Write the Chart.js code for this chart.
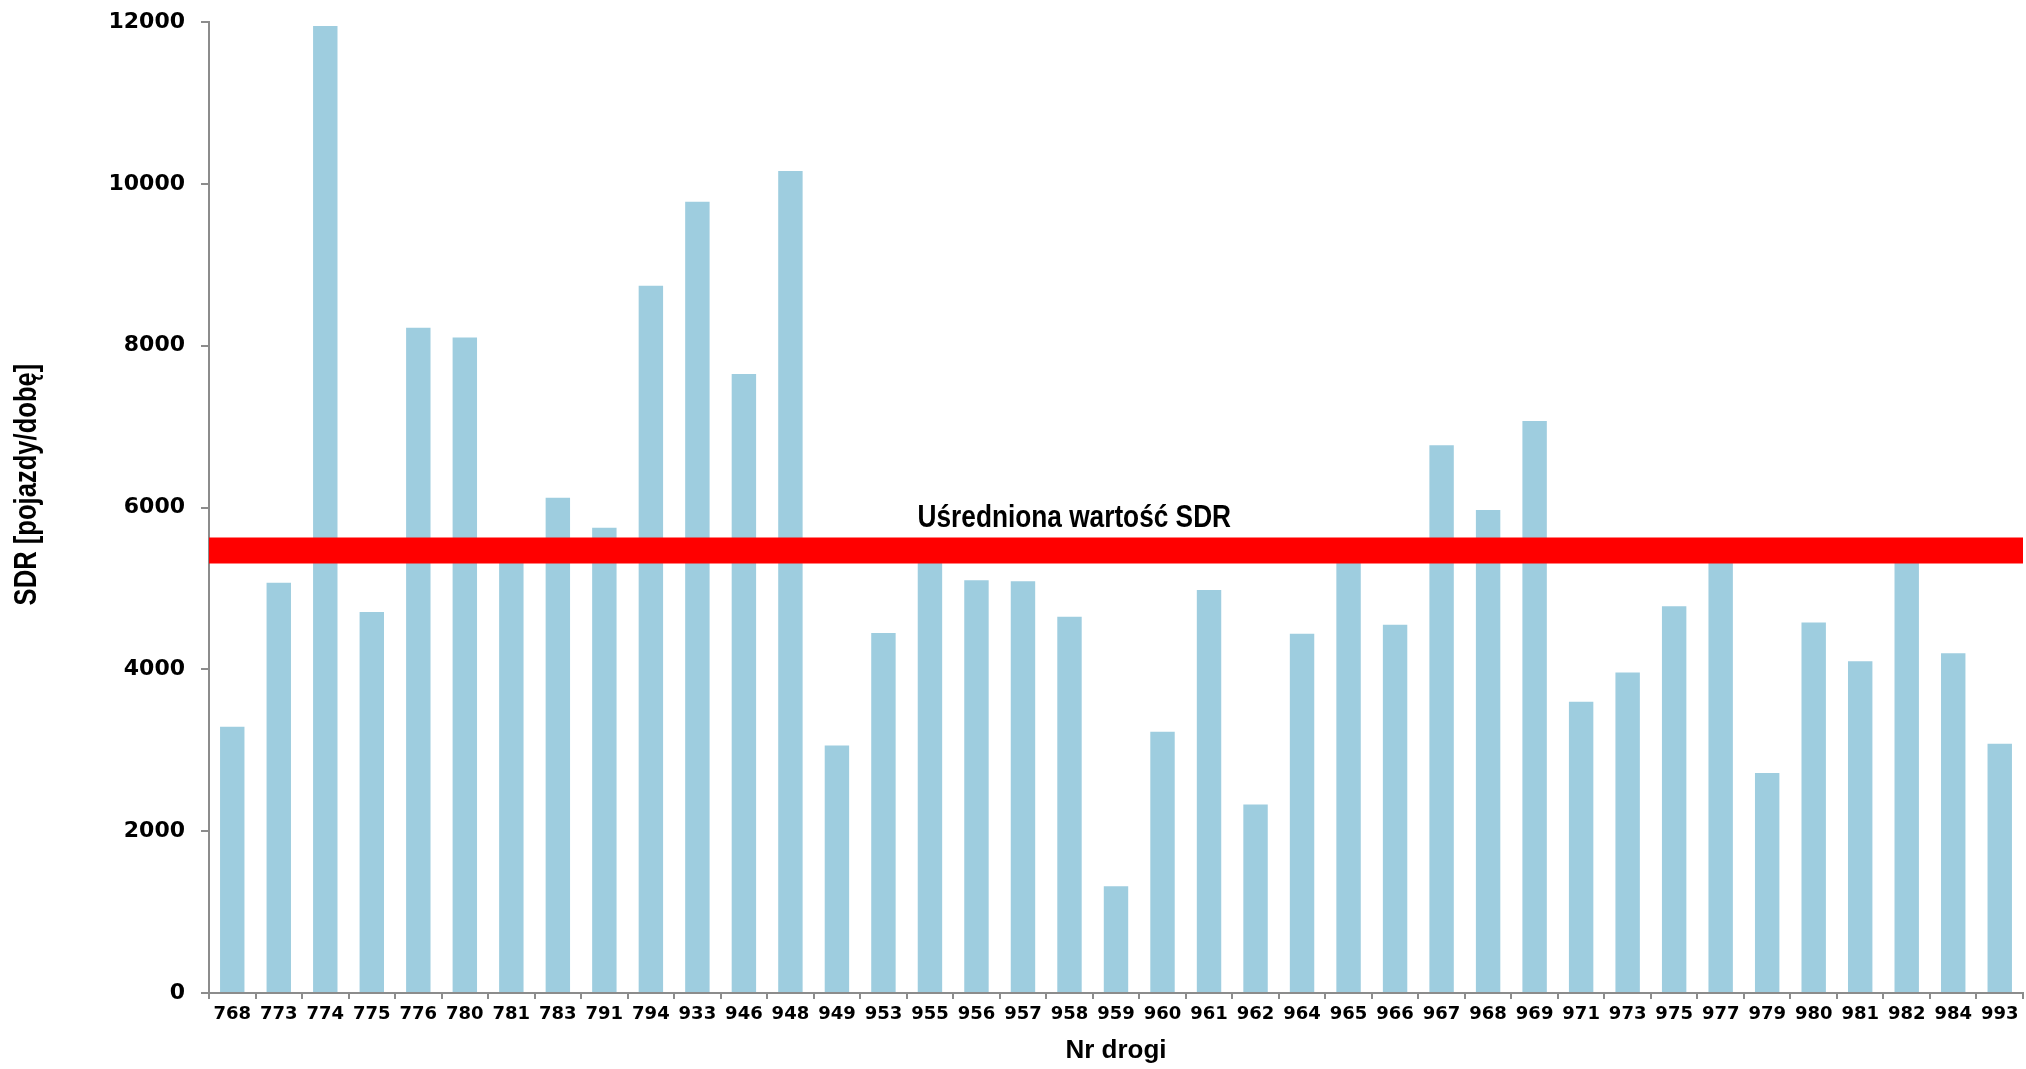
<!DOCTYPE html>
<html lang="pl">
<head>
<meta charset="utf-8">
<title>SDR</title>
<script src="https://cdn.jsdelivr.net/npm/chart.js@4.4.1/dist/chart.umd.min.js"></script>
<style>
  html, body { margin: 0; padding: 0; background: #fff; }
  canvas { display: block; }
</style>
</head>
<body>
<canvas id="wykres" width="2026" height="1069"></canvas>
<script>
const drogi = ['768', '773', '774', '775', '776', '780', '781', '783', '791', '794',
  '933', '946', '948', '949', '953', '955', '956', '957', '958', '959',
  '960', '961', '962', '964', '965', '966', '967', '968', '969', '971',
  '973', '975', '977', '979', '980', '981', '982', '984', '993'];

// slupki 781, 955, 965, 977, 982 koncza sie pod czerwonym pasem
const sdr = [3290, 5070, 11950, 4710, 8220, 8100, 5450, 6120, 5750, 8740,
  9780, 7650, 10160, 3060, 4450, 5500, 5100, 5090, 4650, 1320,
  3230, 4980, 2330, 4440, 5480, 4550, 6770, 5970, 7070, 3600,
  3960, 4780, 5420, 2720, 4580, 4100, 5520, 4200, 3080];

const sredniaSDR = 5470;
const etykietaSredniej = 'Uśredniona wartość SDR';
const tytulY = 'SDR [pojazdy/dobę]';
const tytulX = 'Nr drogi';

const szary = '#8c8c8c';

// brak fontu "Narrow" - zwezamy zwykly Liberation Sans
const napisy = {
  id: 'napisy',
  afterDatasetsDraw(chart) {
    const { ctx, chartArea, scales } = chart;
    const yPix = scales.y.getPixelForValue(sredniaSDR);
    ctx.save();
    ctx.fillStyle = '#000';
    ctx.font = 'bold 32px "Liberation Sans", Arial, sans-serif';
    ctx.textAlign = 'center';
    ctx.textBaseline = 'alphabetic';
    ctx.translate(chartArea.left + chartArea.width * 0.477, yPix - 23);
    ctx.scale(0.82, 1);
    ctx.fillText(etykietaSredniej, 0, 0);
    ctx.restore();

    // tytul osi Y
    ctx.save();
    ctx.fillStyle = '#000';
    ctx.font = 'bold 32px "Liberation Sans", Arial, sans-serif';
    ctx.textAlign = 'center';
    ctx.textBaseline = 'alphabetic';
    ctx.translate(36, (chartArea.top + chartArea.bottom) / 2 - 23);
    ctx.rotate(-Math.PI / 2);
    ctx.scale(0.8, 1);
    ctx.fillText(tytulY, 0, 0);
    ctx.restore();
  }
};

new Chart(document.getElementById('wykres'), {
  type: 'bar',
  data: {
    labels: drogi,
    datasets: [
      {
        type: 'line',
        data: [{ x: 0, y: sredniaSDR }, { x: 1, y: sredniaSDR }],
        xAxisID: 'x2',
        borderColor: '#ff0000',
        borderWidth: 26,
        borderCapStyle: 'butt',
        pointRadius: 0,
        order: 1
      },
      {
        data: sdr,
        backgroundColor: '#9ecddf',
        borderWidth: 0,
        grouped: false,
        barPercentage: 0.525,
        categoryPercentage: 1,
        order: 2
      }
    ]
  },
  options: {
    responsive: false,
    animation: false,
    devicePixelRatio: 1,
    layout: { padding: { top: 22, right: 3, left: 0, bottom: 0 } },
    plugins: {
      legend: { display: false },
      tooltip: { enabled: false }
    },
    scales: {
      x: {
        afterFit(scale) { scale.height = 76; },
        grid: { drawOnChartArea: false, tickLength: 6, color: szary, lineWidth: 2 },
        border: { color: szary, width: 2 },
        ticks: {
          color: '#000',
          font: { family: 'DejaVu Sans', weight: 'bold', size: 18 },
          padding: 5,
          maxRotation: 0,
          autoSkip: false
        },
        title: {
          display: true,
          text: tytulX,
          color: '#000',
          font: { family: 'Liberation Sans', weight: 'bold', size: 26 },
          padding: { top: 0, bottom: 3 }
        }
      },
      x2: {
        type: 'linear',
        display: false,
        offset: false,
        min: 0,
        max: 1
      },
      y: {
        min: 0,
        max: 12000,
        afterFit(scale) {
          scale.width = 209;
          scale.paddingTop = 0;
          scale.paddingBottom = 0;
        },
        grid: { drawOnChartArea: false, tickLength: 8, color: szary, lineWidth: 2 },
        border: { color: szary, width: 2 },
        ticks: {
          stepSize: 2000,
          color: '#000',
          font: { family: 'DejaVu Sans', weight: 'bold', size: 22 },
          padding: 16,
          callback: (v) => String(v)
        }
      }
    }
  },
  plugins: [napisy]
});
</script>
</body>
</html>
